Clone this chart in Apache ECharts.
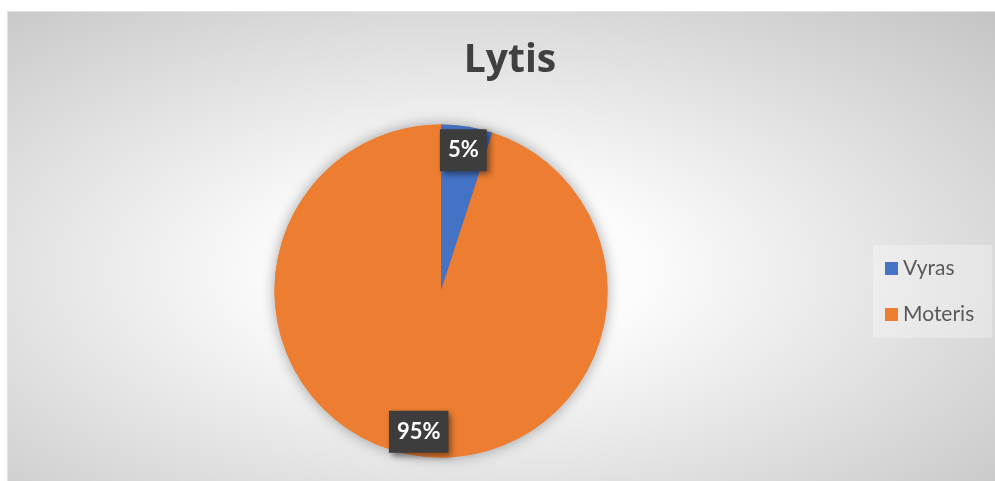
<!DOCTYPE html>
<html>
<head>
<meta charset="utf-8">
<script src="https://cdn.jsdelivr.net/npm/echarts@6/dist/echarts.min.js"></script>
<style>
  html, body { margin: 0; padding: 0; background: #fff; }
  #chart {
    position: absolute; left: 7px; top: 11px; width: 988px; height: 470px;
    border-left: 1px solid #e2e2e2; border-top: 1px solid #e2e2e2;
    background: radial-gradient(ellipse at 46% 55%, #ffffff 0%, #fbfbfb 25%, #c4c4c4 100%);
  }
</style>
</head>
<body>
<div id="chart"></div>
<script>
// duomenys
const titleText = 'Lytis';
const categories = ['Vyras', 'Moteris'];
const values = [5, 95];
const colors = ['#4472c4', '#ed7d31'];

const chart = echarts.init(document.getElementById('chart'));

const pieData = categories.map((c, i) => ({
  name: c,
  value: values[i],
  itemStyle: { color: colors[i] }
}));

const center = [433, 279];

chart.setOption({
  backgroundColor: 'transparent',
  title: {
    text: titleText,
    left: 497,
    textAlign: 'center',
    top: 24,
    textStyle: { fontFamily: 'Open Sans', fontWeight: 'bold', fontSize: 39, color: '#404040' }
  },
  legend: {
    data: categories,
    orient: 'vertical',
    left: 865,
    top: 233,
    padding: [13, 18, 13, 12],
    itemWidth: 13,
    itemHeight: 13,
    itemGap: 25,
    backgroundColor: 'rgba(255,255,255,0.3)',
    icon: 'rect',
    textStyle: { fontFamily: 'Lato', fontSize: 21, color: '#595959' }
  },
  series: [
    {
      // šešėlis po skrituliu
      type: 'pie',
      silent: true,
      radius: 166.5,
      center: center,
      z: 1,
      label: { show: false },
      labelLine: { show: false },
      data: [{ value: 1, name: '', itemStyle: { color: '#ed7d31', shadowBlur: 14, shadowColor: 'rgba(0,0,0,0.35)' } }]
    },
    {
      type: 'pie',
      radius: 166.5,
      center: center,
      startAngle: 90,
      clockwise: true,
      z: 2,
      label: { show: false },
      labelLine: { show: false },
      data: pieData
    },
    {
      // etiketės (kaip Excel "inside end")
      type: 'pie',
      silent: true,
      radius: [112.5, 166.5],
      center: center,
      startAngle: 90,
      z: 3,
      itemStyle: { color: 'rgba(0,0,0,0)' },
      label: {
        show: true,
        position: 'inside',
        formatter: '{d}%',
        fontFamily: 'Lato',
        fontWeight: 'bold',
        fontSize: 22,
        color: '#ffffff',
        backgroundColor: '#3d3d3d',
        padding: [10, 8, 10, 8],
        shadowColor: 'rgba(0,0,0,0.45)',
        shadowBlur: 6,
        shadowOffsetX: 3,
        shadowOffsetY: 3
      },
      labelLine: { show: false },
      data: categories.map((c, i) => ({ name: c, value: values[i] }))
    }
  ]
});
</script>
</body>
</html>
